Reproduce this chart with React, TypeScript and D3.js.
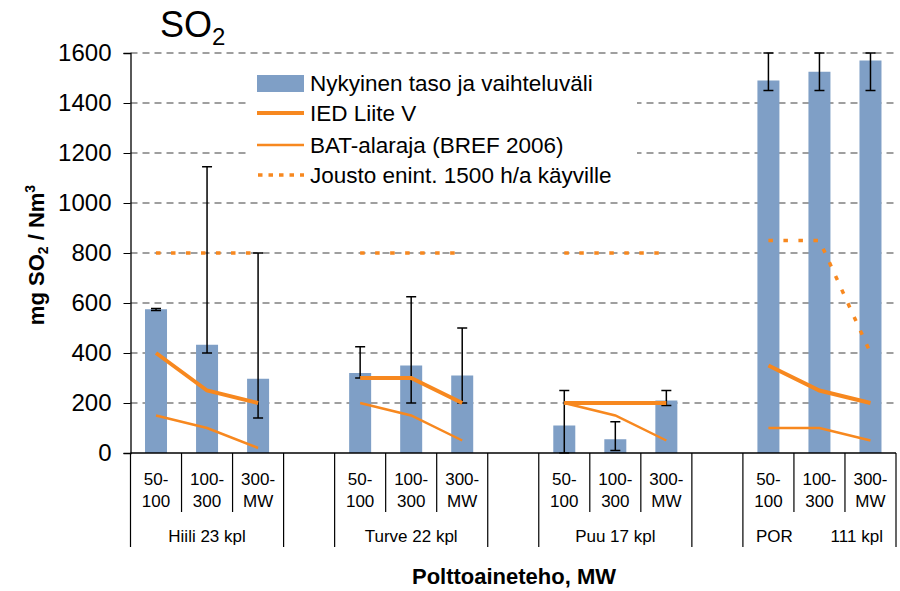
import * as d3 from "d3";
import { useEffect, useRef } from "react";

// Ryhmät (polttoaineet) ja kokoluokat
const groups: string[] = ["Hiili 23 kpl", "Turve 22 kpl", "Puu 17 kpl", "POR        111 kpl"];
const sizeTop: string[] = ["50-", "100-", "300-"];
const sizeBottom: string[] = ["100", "300", "MW"];

// Arvot järjestyksessä Hiili, Turve, Puu, POR (kukin 3 kokoluokkaa)
const current: number[] = [575, 433, 297, 320, 350, 310, 110, 55, 210, 1490, 1525, 1570];
const rangeLow: number[] = [570, 400, 140, 300, 200, 200, 0, 10, 190, 1450, 1450, 1450];
const rangeHigh: number[] = [578, 1145, 800, 425, 625, 500, 250, 125, 250, 1600, 1600, 1600];
const ied: number[] = [400, 250, 200, 300, 300, 200, 200, 200, 200, 350, 250, 200];
const bat: number[] = [150, 100, 20, 200, 150, 50, 200, 150, 50, 100, 100, 50];
const jousto: number[] = [800, 800, 800, 800, 800, 800, 800, 800, 800, 850, 850, 400];

const yTicks: number[] = [0, 200, 400, 600, 800, 1000, 1200, 1400, 1600];

const legendLabels: string[] = [
  "Nykyinen taso ja vaihteluväli",
  "IED Liite V",
  "BAT-alaraja (BREF 2006)",
  "Jousto enint. 1500 h/a käyville",
];

const FONT = "'Liberation Sans', Arial, sans-serif";
const BAR = "#7f9fc6";
const ORANGE = "#f7881f";

export default function App() {
  const width = 900;
  const height = 591;
  const marginLeft = 130.5;
  const marginRight = 4;
  const marginTop = 53;
  const marginBottom = 138;
  const svgRef = useRef<SVGSVGElement>(null);

  useEffect(() => {
    const svg = d3.select(svgRef.current);
    svg.selectAll("*").remove();

    // 15 paikkaa: 4 ryhmää x (3 luokkaa + tyhjä väli)
    const slots = d3.range(15);
    const x = d3
      .scaleBand<number>()
      .domain(slots)
      .range([marginLeft, width - marginRight])
      .padding(0);

    const y = d3
      .scaleLinear()
      .domain([0, 1600])
      .range([height - marginBottom, marginTop]);

    const slotOf = (i: number) => Math.floor(i / 3) * 4 + (i % 3);
    const cx = (i: number) => (x(slotOf(i)) as number) + x.bandwidth() / 2;
    const barW = 22;

    // Apuviivat
    svg
      .append("g")
      .selectAll("line")
      .data(yTicks.filter((d) => d > 0))
      .enter()
      .append("line")
      .attr("x1", marginLeft)
      .attr("x2", width - marginRight)
      .attr("y1", (d) => y(d))
      .attr("y2", (d) => y(d))
      .attr("stroke", "#404040")
      .attr("stroke-width", 1.2)
      .attr("stroke-dasharray", "7,5");

    // Pylväät
    svg
      .append("g")
      .attr("fill", BAR)
      .selectAll("rect")
      .data(current)
      .enter()
      .append("rect")
      .attr("x", (d, i) => cx(i) - barW / 2)
      .attr("width", barW)
      .attr("y", (d) => y(d))
      .attr("height", (d) => y(0) - y(d));

    // Vaihteluvälit
    const err = svg.append("g").attr("stroke", "#000").attr("stroke-width", 1.5);
    current.forEach((d, i) => {
      const c = cx(i);
      err.append("line").attr("x1", c).attr("x2", c).attr("y1", y(rangeLow[i])).attr("y2", y(rangeHigh[i]));
      [rangeLow[i], rangeHigh[i]].forEach((v) => {
        err.append("line").attr("x1", c - 5).attr("x2", c + 5).attr("y1", y(v)).attr("y2", y(v));
      });
    });

    // Viivat ryhmittäin
    const drawSeries = (values: number[], w: number, dash: string | null) => {
      for (let g = 0; g < 4; g++) {
        const pts = values.map((v, i) => ({ v, i })).filter((p) => Math.floor(p.i / 3) === g);
        const path = d3
          .line<{ v: number; i: number }>()
          .x((p) => cx(p.i))
          .y((p) => y(p.v));
        svg
          .append("path")
          .attr("d", path(pts))
          .attr("fill", "none")
          .attr("stroke", ORANGE)
          .attr("stroke-width", w)
          .attr("stroke-dasharray", dash);
      }
    };
    drawSeries(bat, 2.5, null);
    drawSeries(ied, 4, null);
    drawSeries(jousto, 3.5, "4.5,10.5");

    // Y-akseli
    const yAxis = svg
      .append("g")
      .attr("transform", `translate(${marginLeft},0)`)
      .call(d3.axisLeft(y).tickValues(yTicks).tickSize(7).tickPadding(12).tickFormat(d3.format("d")));
    yAxis.select(".domain").attr("stroke", "#000").attr("stroke-width", 1.3);
    yAxis.selectAll(".tick line").attr("stroke", "#000");
    yAxis.selectAll("text").attr("font-family", FONT).attr("font-size", 24).attr("fill", "#000");

    // X-akseli (kaksitasoinen)
    const xa = svg.append("g");
    xa.append("line")
      .attr("x1", marginLeft)
      .attr("x2", width - marginRight)
      .attr("y1", y(0))
      .attr("y2", y(0))
      .attr("stroke", "#000")
      .attr("stroke-width", 1.5);
    d3.range(16).forEach((k) => {
      const xx = k < 15 ? (x(k) as number) : width - marginRight;
      const long = k % 4 === 0 || k % 4 === 3;
      xa.append("line")
        .attr("x1", xx)
        .attr("x2", xx)
        .attr("y1", y(0))
        .attr("y2", long ? 547 : 512)
        .attr("stroke", "#000")
        .attr("stroke-width", 1.2);
    });
    current.forEach((d, i) => {
      const c = cx(i);
      xa.append("text")
        .attr("x", c)
        .attr("y", 485)
        .attr("text-anchor", "middle")
        .attr("font-family", FONT)
        .attr("font-size", 17)
        .text(sizeTop[i % 3]);
      xa.append("text")
        .attr("x", c)
        .attr("y", 507)
        .attr("text-anchor", "middle")
        .attr("font-family", FONT)
        .attr("font-size", 17)
        .text(sizeBottom[i % 3]);
    });
    groups.forEach((g, gi) => {
      const c = ((x(gi * 4) as number) + (x(gi * 4 + 2) as number) + x.bandwidth()) / 2;
      xa.append("text")
        .attr("x", c)
        .attr("y", 542)
        .attr("text-anchor", "middle")
        .attr("font-family", FONT)
        .attr("font-size", 17)
        .style("white-space", "pre")
        .text(g);
    });

    // Akselien otsikot
    svg
      .append("text")
      .attr("x", 514)
      .attr("y", 584)
      .attr("text-anchor", "middle")
      .attr("font-family", FONT)
      .attr("font-size", 22)
      .attr("font-weight", "bold")
      .text("Polttoaineteho, MW");

    const yl = svg
      .append("text")
      .attr("transform", "translate(44,255) rotate(-90)")
      .attr("text-anchor", "middle")
      .attr("font-family", FONT)
      .attr("font-size", 22)
      .attr("font-weight", "bold");
    yl.append("tspan").text("mg SO");
    yl.append("tspan").attr("font-size", 14).attr("dy", 4).text("2");
    yl.append("tspan").attr("dy", -4).text(" / Nm");
    yl.append("tspan").attr("font-size", 14).attr("dy", -9).text("3");

    // Otsikko
    const t = svg.append("text").attr("x", 160).attr("y", 37).attr("font-family", FONT).attr("font-size", 36);
    t.append("tspan").text("SO");
    t.append("tspan").attr("font-size", 24).attr("dy", 8).text("2");

    // Selite
    const lg = svg.append("g");
    lg.append("rect").attr("x", 247).attr("y", 62).attr("width", 390).attr("height", 130).attr("fill", "#fff");
    const rowY = [83, 113, 145, 175];
    lg.append("rect").attr("x", 257).attr("y", 75).attr("width", 47).attr("height", 17).attr("fill", BAR);
    lg.append("line").attr("x1", 257).attr("x2", 304).attr("y1", rowY[1]).attr("y2", rowY[1])
      .attr("stroke", ORANGE).attr("stroke-width", 4);
    lg.append("line").attr("x1", 257).attr("x2", 304).attr("y1", rowY[2]).attr("y2", rowY[2])
      .attr("stroke", ORANGE).attr("stroke-width", 2.5);
    lg.append("line").attr("x1", 258).attr("x2", 304).attr("y1", rowY[3]).attr("y2", rowY[3])
      .attr("stroke", ORANGE).attr("stroke-width", 3.5).attr("stroke-dasharray", "4.5,6");
    legendLabels.forEach((l, i) => {
      lg.append("text")
        .attr("x", 310)
        .attr("y", rowY[i] + 7.5)
        .attr("font-family", FONT)
        .attr("font-size", 22.5)
        .text(l);
    });
  }, []);

  return (
    <svg
      ref={svgRef}
      width={width}
      height={height}
      style={{ position: "absolute", left: 0, top: 0, background: "#fff" }}
    />
  );
}
